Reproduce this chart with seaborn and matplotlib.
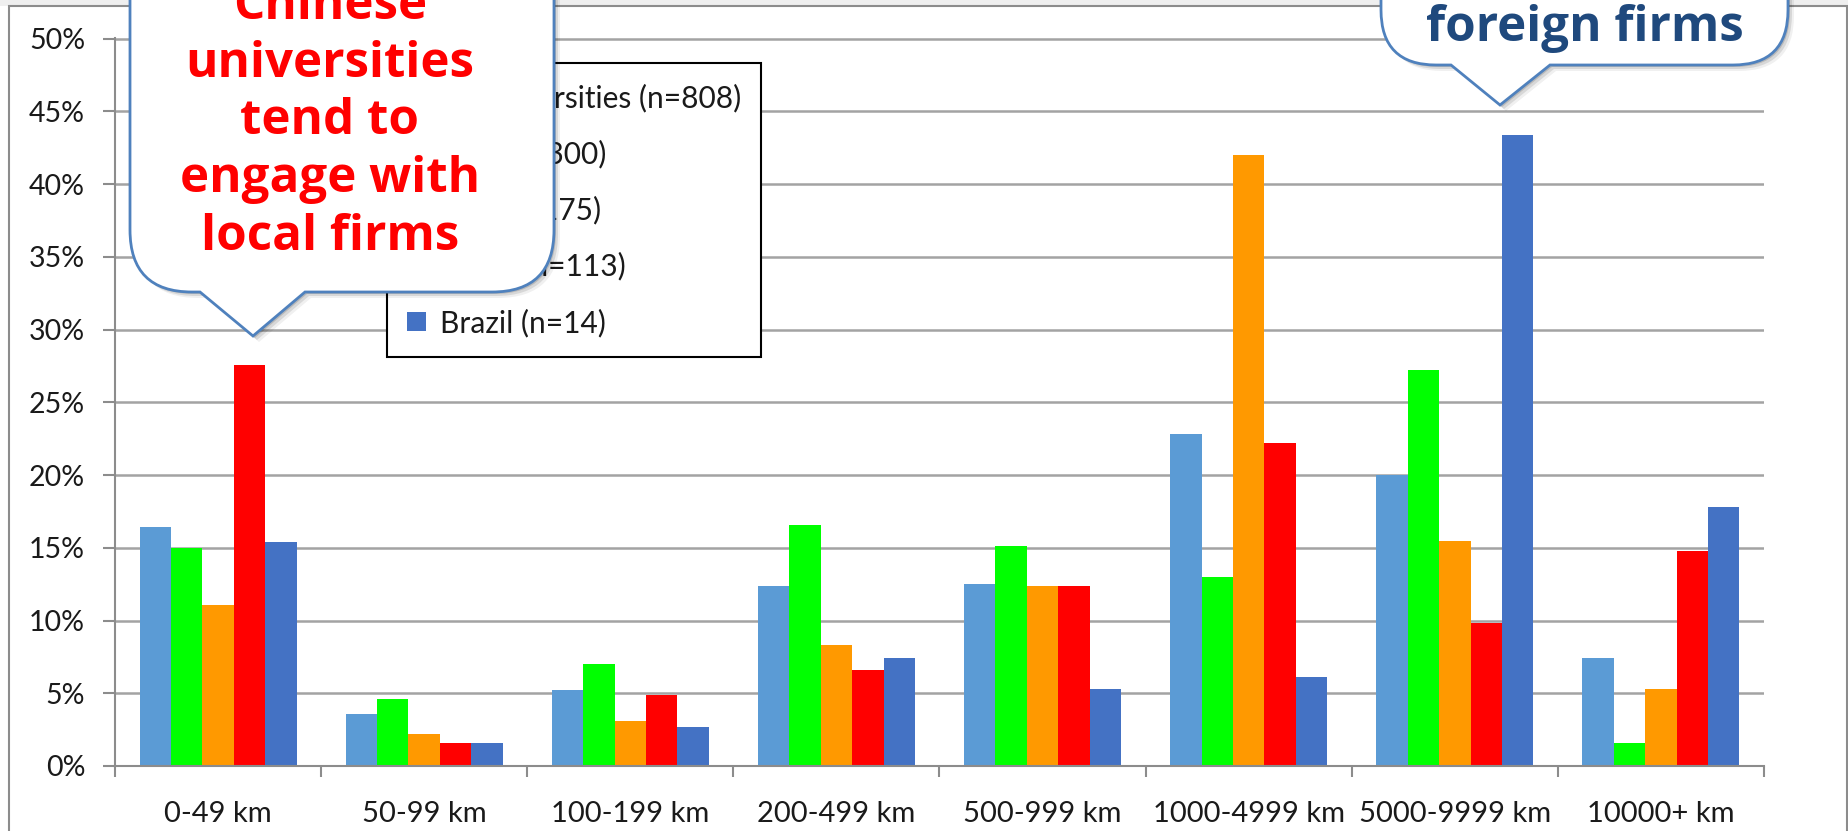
import matplotlib
matplotlib.use("Agg")
import matplotlib.pyplot as plt
import pandas as pd
import seaborn as sns
from matplotlib.path import Path
from matplotlib.patches import PathPatch, Rectangle
from matplotlib.ticker import PercentFormatter, FixedLocator

# ---- data -------------------------------------------------------------
distance_bands = ["0-49 km", "50-99 km", "100-199 km", "200-499 km",
                  "500-999 km", "1000-4999 km", "5000-9999 km", "10000+ km"]
series_names = ["All universities (n=808)", "Italy (n=300)", "Iran (n=175)",
                "China (n=113)", "Brazil (n=14)"]
all_universities = [16.4, 3.6, 5.2, 12.4, 12.5, 22.8, 20.0, 7.4]
italy = [15.0, 4.6, 7.0, 16.6, 15.1, 13.0, 27.2, 1.6]
iran = [11.1, 2.2, 3.1, 8.3, 12.4, 42.0, 15.5, 5.3]
china = [27.6, 1.6, 4.9, 6.6, 12.4, 22.2, 9.8, 14.8]
brazil = [15.4, 1.6, 2.7, 7.4, 5.3, 6.1, 43.4, 17.8]
series_colors = ["#5B9BD5", "#00FF00", "#FF9900", "#FF0000", "#4472C4"]
y_ticks = [0, 5, 10, 15, 20, 25, 30, 35, 40, 45, 50]

left_note = ["Chinese", "universities", "tend to", "engage with", "local firms"]
right_note = ["foreign firms"]

records = []
for name, vals in zip(series_names, [all_universities, italy, iran, china, brazil]):
    for band, v in zip(distance_bands, vals):
        records.append({"band": band, "series": name, "share": v})
df = pd.DataFrame(records)

# ---- figure -----------------------------------------------------------
sns.set_theme(style="white")
plt.rcParams["font.family"] = ["Lato", "DejaVu Sans"]

W, H = 1849, 831
fig = plt.figure(figsize=(W / 100, H / 100), dpi=100)
fig.patch.set_facecolor("white")


def fx(x):
    return x / W


def fy(y):
    return 1 - y / H


# slide band and chart frame
fig.patches.append(Rectangle((0, fy(6)), 1, fy(0) - fy(6), transform=fig.transFigure,
                             facecolor="#efefef", edgecolor="none", zorder=-2))
fig.patches.append(Rectangle((fx(9), fy(845)), fx(1847) - fx(9), fy(6) - fy(845),
                             transform=fig.transFigure, facecolor="white",
                             edgecolor="#8c8c8c", linewidth=1.5, zorder=-1))

ax = fig.add_axes([fx(115), fy(766), fx(1764) - fx(115), fy(38) - fy(766)])
ax.set_facecolor("none")

sns.barplot(data=df, x="band", y="share", hue="series", order=distance_bands,
            hue_order=series_names, palette=series_colors, saturation=1,
            width=0.762, linewidth=0, edgecolor="none", ax=ax)

ax.set_xlim(-0.5, len(distance_bands) - 0.5)
ax.set_ylim(0, 50.05)
ax.set_yticks(y_ticks)
ax.yaxis.set_major_formatter(PercentFormatter(xmax=100, decimals=0))
ax.set_xlabel("")
ax.set_ylabel("")
ax.set_axisbelow(True)
ax.yaxis.grid(True, color="#a3a3a3", linewidth=1.8)
ax.xaxis.grid(False)

ax.xaxis.set_minor_locator(FixedLocator([i - 0.5 for i in range(len(distance_bands) + 1)]))
ax.tick_params(axis="x", which="major", length=0, pad=25, labelsize=21, labelcolor="#1a1a1a")
ax.tick_params(axis="x", which="minor", length=8, width=1.5, color="#8c8c8c",
               direction="out", bottom=True)
ax.tick_params(axis="y", which="major", length=8.5, width=1.5, color="#8c8c8c",
               direction="out", pad=13, labelsize=20.5, labelcolor="#1a1a1a", left=True)

for side in ["top", "right"]:
    ax.spines[side].set_visible(False)
for side in ["left", "bottom"]:
    ax.spines[side].set_color("#8c8c8c")
    ax.spines[side].set_linewidth(1.5)

handles, labels = ax.get_legend_handles_labels()
leg = ax.legend(handles, labels, loc="upper left",
                bbox_to_anchor=(fx(387), fy(63)), bbox_transform=fig.transFigure,
                frameon=True, fancybox=False, framealpha=1, edgecolor="black",
                borderaxespad=0, fontsize=21.5, labelspacing=0.92,
                handlelength=0.64, handleheight=0.6, handletextpad=0.45,
                borderpad=0.68)
leg.get_frame().set_linewidth(1.5)
for t in leg.get_texts():
    t.set_color("#1a1a1a")


# ---- speech-bubble annotations -------------------------------------------
def bubble_path(x0, x1, ytop, ybot, r, base_l, base_r, tip_x, tip_y, dx=0, dy=0):
    pts = [(x0, ytop), (x0, ybot - r), (x0, ybot), (x0 + r, ybot),
           (base_l, ybot), (tip_x, tip_y), (base_r, ybot),
           (x1 - r, ybot), (x1, ybot), (x1, ybot - r), (x1, ytop), (x0, ytop)]
    codes = [Path.MOVETO, Path.LINETO, Path.CURVE3, Path.CURVE3,
             Path.LINETO, Path.LINETO, Path.LINETO,
             Path.LINETO, Path.CURVE3, Path.CURVE3, Path.LINETO, Path.CLOSEPOLY]
    verts = [(fx(x + dx), fy(y + dy)) for x, y in pts]
    return Path(verts, codes)


def add_bubble(x0, x1, ybot, r, base_l, base_r, tip_x, tip_y):
    for off, alpha in [(6, 0.06), (4, 0.10), (2, 0.14)]:
        fig.patches.append(PathPatch(
            bubble_path(x0, x1, -400, ybot, r, base_l, base_r, tip_x, tip_y, off, off),
            transform=fig.transFigure, facecolor="black", edgecolor="none",
            alpha=alpha, zorder=4))
    fig.patches.append(PathPatch(
        bubble_path(x0, x1, -400, ybot, r, base_l, base_r, tip_x, tip_y),
        transform=fig.transFigure, facecolor="white", edgecolor="#4F81BD",
        linewidth=2, zorder=5))


add_bubble(130, 554, 292, 62, 200, 305, 253, 336)
for i, line in enumerate(left_note):
    fig.text(fx(330), fy(19 + 57.7 * i), line, ha="center", va="baseline",
             color="#FF0000", fontsize=35.5, fontweight="bold",
             family=["Open Sans", "DejaVu Sans"], zorder=6)

add_bubble(1381, 1788, 65, 55, 1451, 1550, 1500, 105)
for i, line in enumerate(right_note):
    fig.text(fx(1585), fy(41 + 57.7 * i), line, ha="center", va="baseline",
             color="#1F497D", fontsize=35.5, fontweight="bold",
             family=["Open Sans", "DejaVu Sans"], zorder=6)

fig.savefig("out.png", dpi=100, facecolor=fig.get_facecolor())
